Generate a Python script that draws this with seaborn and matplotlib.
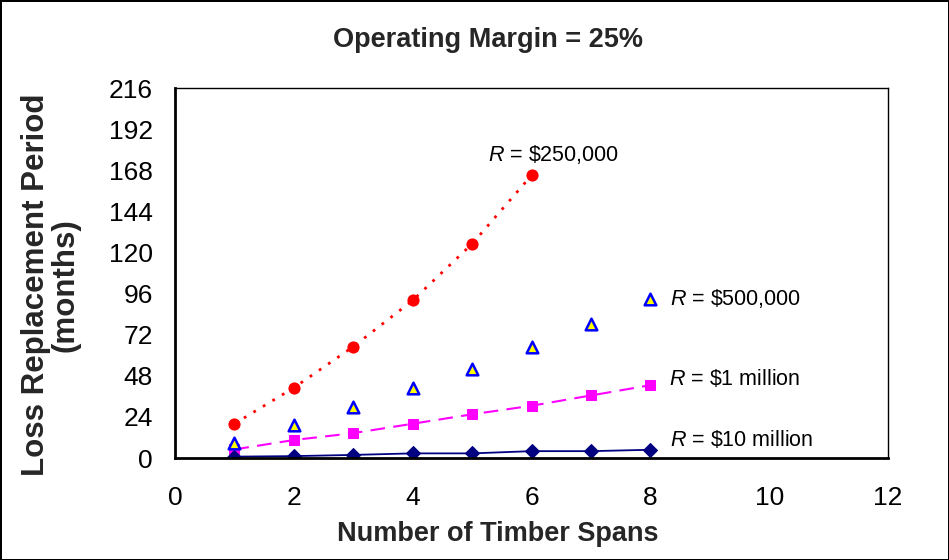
import numpy as np
import pandas as pd
import matplotlib
matplotlib.use("Agg")
import matplotlib.pyplot as plt
import seaborn as sns
from matplotlib.ticker import MultipleLocator

spans_4 = [1, 2, 3, 4, 5, 6]
spans_8 = [1, 2, 3, 4, 5, 6, 7, 8]

r_250k = [20, 41, 65, 92, 125, 165]
r_500k = [9, 19, 30, 41, 52, 65, 78, 93]
r_1m = [5, 10.5, 14.5, 20, 25.5, 30.5, 36.5, 42.5]
r_10m = [0.8, 1.1, 1.8, 2.7, 2.7, 4.0, 4.0, 4.8]

labels = ["$\\it{R}$ = \\$250,000", "$\\it{R}$ = \\$500,000",
          "$\\it{R}$ = \\$1 million", "$\\it{R}$ = \\$10 million"]
label_pos = [(5.27, 177), (8.33, 93.4), (8.31, 46), (8.33, 10.5)]

sns.set_style("white")
plt.rcParams['font.family'] = ['Liberation Sans', 'DejaVu Sans']
plt.rcParams['mathtext.fontset'] = 'custom'
plt.rcParams['mathtext.it'] = 'Liberation Sans:italic'
plt.rcParams['mathtext.rm'] = 'Liberation Sans'

fig = plt.figure(figsize=(9.49, 5.6), dpi=100)
fig.patch.set_edgecolor('black')
fig.patch.set_linewidth(2)
ax = fig.add_axes([175/949, 1-458/560, 713/949, 370/560])

sns.lineplot(x=spans_4, y=r_250k, ax=ax, color='red', marker='o', markersize=8,
             markeredgecolor='red', linestyle=(0, (1, 3)), linewidth=2)
sns.scatterplot(x=spans_8, y=r_500k, ax=ax, marker='^', s=70, color='yellow',
                edgecolor='blue', linewidth=1.8, zorder=3)
sns.lineplot(x=spans_8, y=r_1m, ax=ax, color='magenta', marker='s', markersize=7.5,
             markeredgecolor='magenta', linestyle=(0, (7, 4)), linewidth=1.5)
sns.lineplot(x=spans_8, y=r_10m, ax=ax, color='navy', marker='D', markersize=7.5,
             markeredgecolor='navy', linewidth=1.3)

for txt, (tx, ty) in zip(labels, label_pos):
    ax.text(tx, ty, txt, fontsize=15.5, ha='left', va='center', color='black')

ax.set_xlim(0, 12)
ax.set_ylim(0, 216)
ax.xaxis.set_major_locator(MultipleLocator(2))
ax.xaxis.set_minor_locator(MultipleLocator(1))
ax.yaxis.set_major_locator(MultipleLocator(24))
ax.yaxis.set_minor_locator(MultipleLocator(12))
ax.tick_params(which='major', direction='inout', length=12, width=1.5,
               labelsize=19, colors='black')
ax.tick_params(which='minor', direction='in', length=5, width=1.5)
ax.tick_params(axis='x', which='major', pad=14)
ax.tick_params(axis='y', which='major', pad=10)

for side in ['left', 'bottom']:
    ax.spines[side].set_linewidth(2)
    ax.spines[side].set_color('black')
for side in ['top', 'right']:
    ax.spines[side].set_linewidth(1)
    ax.spines[side].set_color('black')

ax.set_xlabel("Number of Timber Spans", fontsize=19.5, fontweight='bold')
ax.xaxis.set_label_coords(0.452, -0.17)
ax.set_ylabel("Loss Replacement Period\n(months)", fontsize=22.5,
              fontweight='bold', linespacing=0.95)
ax.yaxis.set_label_coords(-0.133, 0.468)

fig.text(488/949, 1-40/560, "Operating Margin = 25%", fontsize=19.5,
         fontweight='bold', ha='center', va='center')

plt.savefig("out.png", dpi=100, edgecolor=fig.get_edgecolor())
